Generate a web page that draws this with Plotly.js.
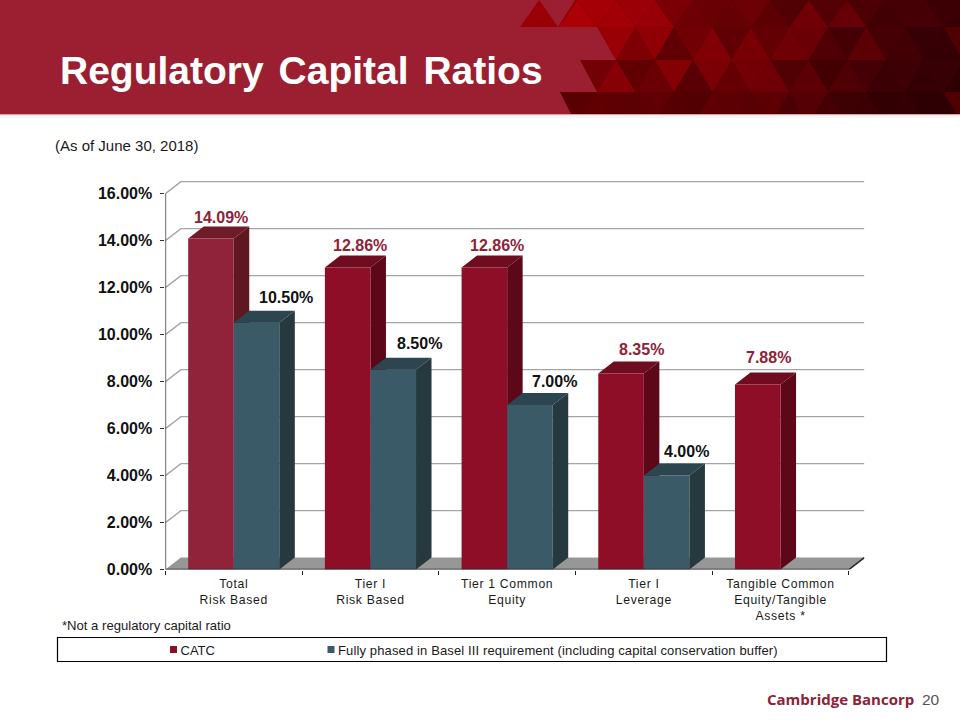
<!DOCTYPE html>
<html>
<head>
<meta charset="utf-8">
<script src="https://cdn.plot.ly/plotly-3.0.1.min.js"></script>
<style>
html,body{margin:0;padding:0;background:#fff}
#chart{width:960px;height:720px}
.xtick text{letter-spacing:.68px}
.gtitle{word-spacing:4px}
.legendtext,.legend2text{transform:translateX(-13px)}
.legend2text{letter-spacing:.13px}
</style>
</head>
<body>
<div id="chart"></div>
<script>
// ---- chart data ----
const categories = ['Total<br>Risk Based', 'Tier I<br>Risk Based', 'Tier 1 Common<br>Equity', 'Tier I<br>Leverage', 'Tangible Common<br>Equity/Tangible<br>Assets *'];
const catcValues = [14.09, 12.86, 12.86, 8.35, 7.88];
const baselValues = [10.50, 8.50, 7.00, 4.00, null];
const yTicks = [0, 2, 4, 6, 8, 10, 12, 14, 16];
const catcName = 'CATC';
const baselName = 'Fully phased in Basel III requirement (including capital conservation buffer)';

// ---- label nudges in pixels ----
const catcLabelDx = [10.5, 12, 13, 20, 11];
const catcLabelDy = [20.5, 21.4, 21.4, 24, 27];
const baselLabelDx = [29, 26, 25, 20, 0];
const baselLabelDy = [25, 26, 24, 24.6, 0];

// ---- colours ----
const catcFront = ['#90233a', '#8e0e27', '#8e0e27', '#8e0e27', '#8e0e27'];
const catcTop = ['#701c28', '#6f0c1f', '#6f0c1f', '#6f0c1f', '#6f0c1f'];
const catcSide = ['#5f1720', '#5c0818', '#5c0818', '#5c0818', '#5c0818'];
const baselFront = '#3a5a68', baselTop = '#2d454f', baselSide = '#26393f';

// ---- geometry of the fake-3D frame, in axis units ----
const catPx = 136.7, plotLeft = 165.4;
const depthX = 15.5 / catPx, depthY = 12 / 23.5;
const barW = 1 / 3, xTop = 5 + depthX, yTop = (569.6 - 181) / 23.5;

const fx = p => p / 960, fy = p => 1 - p / 720;
const band = {type:'rect', xref:'paper', yref:'paper', layer:'below', line:{width:0}};
const shapes = [];
function rect(x0, y0, x1, y1, color) {
  shapes.push(Object.assign({}, band, {x0:fx(x0), x1:fx(x1), y0:fy(y0), y1:fy(y1), fillcolor:color}));
}
function poly(pts, color) {
  const path = pts.map((p, i) => (i ? 'L' : 'M') + fx(p[0]) + ',' + fy(p[1])).join(' ') + ' Z';
  shapes.push({type:'path', path, xref:'paper', yref:'paper', layer:'below', fillcolor:color, line:{width:0}});
}

// ---- header band with triangle decoration ----
const toneRows = [
  {y0:0,  y1:27,  x:539.25, v:1.0,  tones:'86888886555654858545655'},
  {y0:27, y1:60,  x:520,    v:0.95, tones:'55556868468586885485544'},
  {y0:60, y1:92,  x:539.25, v:0.9,  tones:'56657458486885746545454'},
  {y0:92, y1:124, x:520,    v:0.75, tones:'44445556557778686554545'}
];
rect(520, 0, 960, 114, '#500000');
toneRows.forEach(r => {
  for (let i = -1; i < r.tones.length; i++) {
    const tone = +r.tones[Math.max(i, 0)];
    const cx = r.x + 19.25 * i;
    const t = Math.min(1, Math.max(0, (cx - 540) / 420));
    const base = 155 - 95 * t;
    const m = (0.4 + tone * 0.09) * r.v;
    const c = 'rgb(' + Math.round(base * m + 6) + ',0,' + Math.round(5 * m) + ')';
    const up = Math.abs(i % 2) === 0;
    const pts = up ? [[cx - 19.25, r.y1], [cx + 19.25, r.y1], [cx, r.y0]]
                   : [[cx - 19.25, r.y0], [cx + 19.25, r.y0], [cx, r.y1]];
    poly(pts, c);
  }
});
poly([[0,0],[575,0],[558,27],[597,27],[616,60],[580,60],[597,92],[560,92],[571,114],[0,114]], '#9b1f31');
poly([[520,27],[558,27],[539.25,0]], '#990006');
rect(0, 114, 960, 125, '#ffffff');
rect(0, 114, 960, 115, '#d9a3ab');
rect(0, 115, 960, 116, '#ececec');
rect(0, 116, 960, 118, '#f6f6f6');
// legend box
shapes.push({type:'rect', xref:'paper', yref:'paper', layer:'below',
  x0:fx(57.5), x1:fx(886.5), y0:fy(637.5), y1:fy(661.5), fillcolor:'#fff', line:{color:'#000', width:1.2}});

// ---- traces ----
const skip = {hoverinfo:'skip', showlegend:false, cliponaxis:false};
const traces = [];

// floor
traces.push(Object.assign({x:[0, 5, xTop, depthX, 0], y:[0, 0, depthY, depthY, 0], mode:'lines', fill:'toself',
  fillcolor:'#979797', line:{width:0}}, skip));
// walls' grid lines
const gx = [], gy = [];
yTicks.forEach(v => { if (v > 0) { gx.push(0, depthX, xTop, null); gy.push(v, v + depthY, v + depthY, null); } });
traces.push(Object.assign({x:gx, y:gy, mode:'lines', line:{color:'#a5a5a5', width:1.4}}, skip));

function depthFaces(x0, value, top, side, axes) {
  const x1 = x0 + barW;
  traces.push(Object.assign({x:[x0, x0 + depthX, x1 + depthX, x1, x0], y:[value, value + depthY, value + depthY, value, value],
    mode:'lines', fill:'toself', fillcolor:top, line:{width:0}}, skip, axes));
  traces.push(Object.assign({x:[x1, x1 + depthX, x1 + depthX, x1, x1], y:[value, value + depthY, depthY, 0, value],
    mode:'lines', fill:'toself', fillcolor:side, line:{width:0}}, skip, axes));
}
const catcX = categories.map((c, i) => i + 1 / 3);
const baselX = categories.map((c, i) => i + 2 / 3);
catcValues.forEach((v, i) => depthFaces(catcX[i] - barW / 2, v, catcTop[i], catcSide[i], {xaxis:'x', yaxis:'y'}));
baselValues.forEach((v, i) => { if (v !== null) depthFaces(baselX[i] - barW / 2, v, baselTop, baselSide, {xaxis:'x2', yaxis:'y2'}); });

// front faces drawn by the bar layer of the overlaying subplot
traces.push({type:'bar', name:catcName, x:catcX, y:catcValues, width:barW, marker:{color:catcFront, line:{width:0}},
  xaxis:'x2', yaxis:'y2', showlegend:false, hovertemplate:'%{y:.2f}%<extra>CATC</extra>'});
traces.push({type:'bar', name:baselName, x:baselX, y:baselValues, width:barW, marker:{color:baselFront, line:{width:0}},
  xaxis:'x2', yaxis:'y2', showlegend:false, hovertemplate:'%{y:.2f}%<extra></extra>'});

// axis lines
traces.push(Object.assign({x:[0, 0], y:[0, 16], mode:'lines', line:{color:'#3a3a3a', width:1.5}, xaxis:'x2', yaxis:'y2'}, skip));
traces.push(Object.assign({x:[0, 5, xTop], y:[0, 0, depthY], mode:'lines', line:{color:'#262626', width:1.5}, xaxis:'x2', yaxis:'y2'}, skip));

// legend entries
traces.push({x:[null], y:[null], type:'scatter', mode:'markers', name:catcName, legend:'legend', marker:{symbol:'square', size:7, color:'#8e0e27'}, xaxis:'x2', yaxis:'y2'});
traces.push({x:[null], y:[null], type:'scatter', mode:'markers', name:baselName, legend:'legend2', marker:{symbol:'square', size:7, color:baselFront}, xaxis:'x2', yaxis:'y2'});

// ---- text ----
const pct = v => v.toFixed(2) + '%';
const annotations = [];
const dataLabelFont = {family:'Liberation Sans, Arial, sans-serif', size:16, color:'#8e2236'};
catcValues.forEach((v, i) => annotations.push({xref:'x', yref:'y', x:catcX[i], y:v, xshift:catcLabelDx[i], yshift:catcLabelDy[i],
  text:'<b>' + pct(v) + '</b>', showarrow:false, font:dataLabelFont, xanchor:'center', yanchor:'middle'}));
baselValues.forEach((v, i) => { if (v !== null) annotations.push({xref:'x', yref:'y', x:baselX[i], y:v, xshift:baselLabelDx[i], yshift:baselLabelDy[i],
  text:'<b>' + pct(v) + '</b>', showarrow:false, font:Object.assign({}, dataLabelFont, {color:'#111'}), xanchor:'center', yanchor:'middle'}); });
function note(text, x, y, size, color, family) {
  annotations.push({xref:'paper', yref:'paper', x:fx(x), y:fy(y), text, showarrow:false, xanchor:'left', yanchor:'middle',
    font:{family:family || 'Liberation Sans, Arial, sans-serif', size, color}});
}
note('(As of June 30, 2018)', 53, 146, 15, '#1a1a1a');
note('*Not a regulatory capital ratio', 60, 625, 13.1, '#1a1a1a');
note('<b>Cambridge Bancorp</b>', 765, 698.5, 15, '#8e2236', 'Open Sans, sans-serif');
note('20', 919.5, 699, 15.5, '#555555');

const sameAxis = {range:[0, xTop], domain:[fx(plotLeft), fx(plotLeft + catPx * xTop)], fixedrange:true, zeroline:false, showgrid:false};
const sameY = {range:[0, yTop], domain:[fy(569.6), fy(181)], fixedrange:true, zeroline:false, showgrid:false};
const legendBase = {orientation:'h', xanchor:'left', y:fy(649.5), yanchor:'middle', borderwidth:0, bgcolor:'rgba(0,0,0,0)',
  font:{size:13, color:'#1a1a1a'}, itemclick:false, itemdoubleclick:false};

const layout = {
  width:960, height:720, margin:{l:0, r:0, t:0, b:0}, paper_bgcolor:'#fff', plot_bgcolor:'rgba(0,0,0,0)',
  font:{family:'Liberation Sans, Arial, sans-serif', color:'#1a1a1a'},
  barmode:'overlay', hovermode:'closest', dragmode:false,
  title:{text:'<b>Regulatory Capital Ratios</b>', x:fx(60), xref:'paper', xanchor:'left', y:fy(70), yref:'paper', yanchor:'middle',
    font:{family:'Liberation Sans, Arial, sans-serif', size:39, color:'#ffffff'}},
  xaxis:Object.assign({}, sameAxis, {
    tickmode:'array', tickvals:categories.map((c, i) => i + 0.5), ticktext:categories, ticks:'', showline:false,
    tickfont:{size:12.2, color:'#1a1a1a'}, tickangle:0, ticklabelstandoff:5,
    minor:{tickmode:'array', tickvals:[0, 1, 2, 3, 4, 5], ticks:'outside', ticklen:4, tickwidth:1.2, tickcolor:'#222', showgrid:false}
  }),
  yaxis:Object.assign({}, sameY, {
    tickmode:'array', tickvals:yTicks, ticktext:yTicks.map(pct), ticks:'outside', ticklen:4, tickwidth:1.3, tickcolor:'#333',
    showline:false, tickfont:{size:16, color:'#111', weight:'bold'}, ticklabelstandoff:5
  }),
  xaxis2:Object.assign({}, sameAxis, {overlaying:'x', visible:false}),
  yaxis2:Object.assign({}, sameY, {overlaying:'y', visible:false}),
  shapes, annotations,
  showlegend:true,
  legend:Object.assign({}, legendBase, {x:fx(153.5)}),
  legend2:Object.assign({}, legendBase, {x:fx(311)})
};
Plotly.newPlot('chart', traces, layout, {displayModeBar:false});
</script>
</body>
</html>
